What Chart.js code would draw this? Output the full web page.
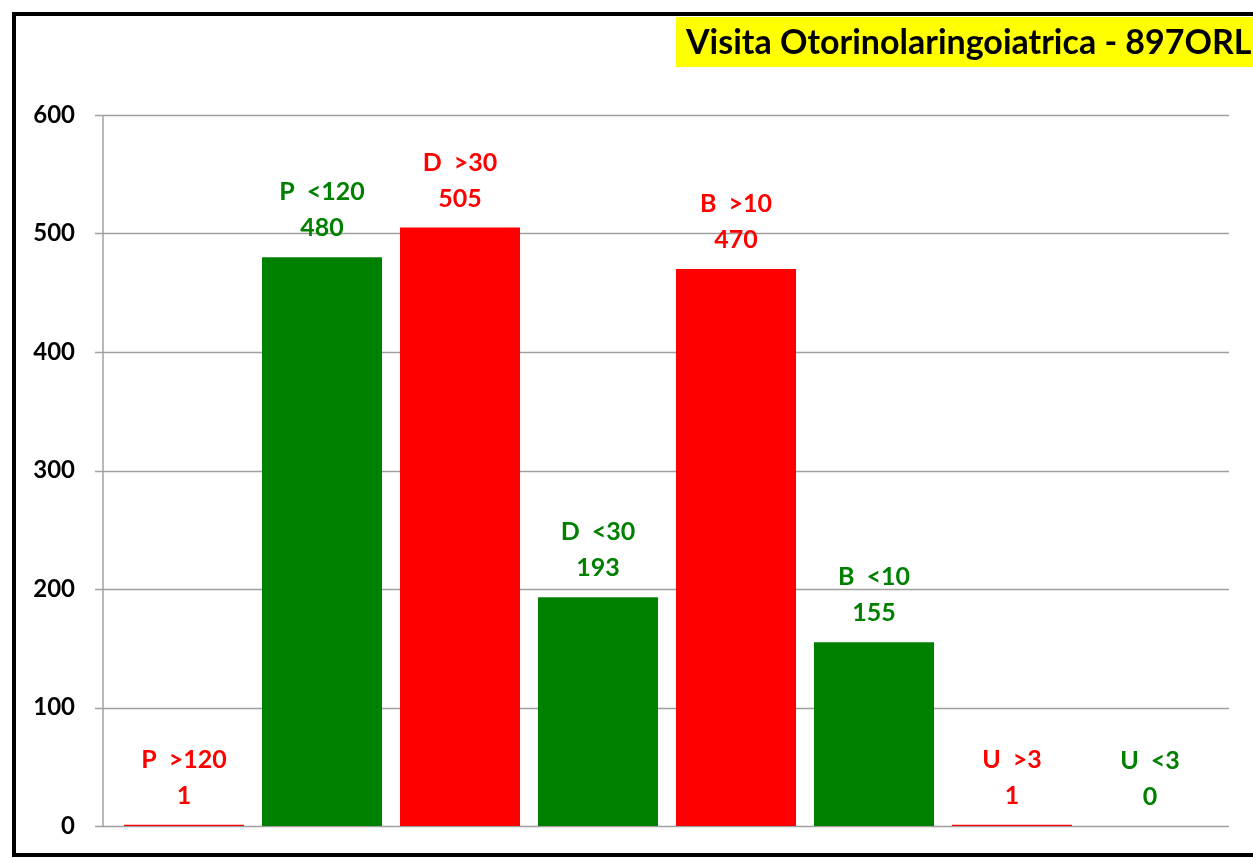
<!DOCTYPE html>
<html>
<head>
<meta charset="utf-8">
<script src="https://cdn.jsdelivr.net/npm/chart.js@4.4.1/dist/chart.umd.min.js"></script>
<style>
  html, body { margin: 0; padding: 0; background: #fff; }
  #wrap { width: 1253px; height: 858px; position: relative; }
</style>
</head>
<body>
<div id="wrap"><canvas id="myBarChart" width="1253" height="858"></canvas></div>
<script>
// Chart data
const categories = ['P  >120', 'P  <120', 'D  >30', 'D  <30', 'B  >10', 'B  <10', 'U  >3', 'U  <3'];
const values = [1, 480, 505, 193, 470, 155, 1, 0];
const yTicks = [0, 100, 200, 300, 400, 500, 600];
const chartTitle = 'Visita Otorinolaringoiatrica - 897ORL';

const RED = '#ff0000';
const GREEN = '#008000';
const barColors = categories.map((c, i) => (i % 2 === 0 ? RED : GREEN));
const FONT = 'Lato, "Open Sans", sans-serif';

// gridlines + axis line drawn wider than the bar area, like the original
const gridPlugin = {
    id: 'gridPlugin',
    beforeDatasetsDraw(chart) {
        const { ctx, chartArea, scales } = chart;
        const y = scales.y;
        ctx.save();
        ctx.strokeStyle = '#a0a0a0';
        ctx.lineWidth = 1.5;
        yTicks.forEach(v => {
            const py = Math.round(y.getPixelForValue(v)) + 0.5;
            ctx.beginPath();
            ctx.moveTo(chartArea.left - 20, py);
            ctx.lineTo(chartArea.right + 10, py);
            ctx.stroke();
        });
        const ax = chartArea.left - 12;
        ctx.beginPath();
        ctx.moveTo(ax, y.getPixelForValue(600));
        ctx.lineTo(ax, y.getPixelForValue(0));
        ctx.stroke();
        ctx.restore();
    }
};

// category + value labels above each bar
const labelPlugin = {
    id: 'labelPlugin',
    afterDatasetsDraw(chart) {
        const { ctx } = chart;
        const meta = chart.getDatasetMeta(0);
        ctx.save();
        ctx.font = 'bold 25px ' + FONT;
        ctx.textAlign = 'center';
        ctx.textBaseline = 'middle';
        meta.data.forEach((bar, i) => {
            ctx.fillStyle = barColors[i];
            ctx.fillText(categories[i], bar.x, bar.y - 65);
            ctx.fillText(String(values[i]), bar.x, bar.y - 29);
        });
        ctx.restore();
    }
};

// yellow title box and black frame
const framePlugin = {
    id: 'framePlugin',
    afterDraw(chart) {
        const { ctx } = chart;
        ctx.save();
        ctx.fillStyle = '#ffff00';
        ctx.fillRect(676, 17, 600, 50);
        ctx.fillStyle = '#000';
        ctx.font = 'bold 34px ' + FONT;
        ctx.textAlign = 'left';
        ctx.textBaseline = 'middle';
        ctx.fillText(chartTitle, 686, 43);
        ctx.strokeStyle = '#000';
        ctx.lineWidth = 4;
        ctx.strokeRect(14, 14, 1300, 841);
        ctx.restore();
    }
};

const ctxBar = document.getElementById('myBarChart').getContext('2d');
const myBarChart = new Chart(ctxBar, {
    type: 'bar',
    data: {
        labels: categories,
        datasets: [{
            data: values,
            backgroundColor: barColors,
            borderWidth: 0,
            barPercentage: 0.87,
            categoryPercentage: 1
        }]
    },
    options: {
        responsive: false,
        animation: false,
        layout: { padding: { left: 0, right: 34, top: 115, bottom: 32 } },
        plugins: {
            legend: { display: false },
            tooltip: { enabled: false }
        },
        scales: {
            x: { display: false, offset: true, grid: { display: false } },
            y: {
                min: 0,
                max: 600,
                border: { display: false },
                grid: { display: false },
                afterFit(scale) {
                    scale.width = 115;
                    scale.paddingTop = 0;
                    scale.paddingBottom = 0;
                },
                afterBuildTicks(scale) { scale.ticks = yTicks.map(v => ({ value: v })); },
                ticks: {
                    padding: 32,
                    color: '#000',
                    font: { family: FONT, size: 24, weight: 'bold' }
                }
            }
        }
    },
    plugins: [gridPlugin, labelPlugin, framePlugin]
});
</script>
</body>
</html>
